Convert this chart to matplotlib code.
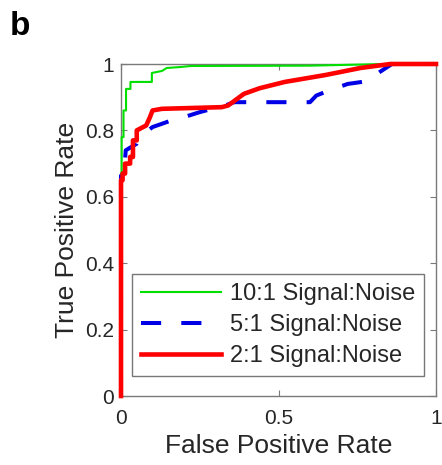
import matplotlib
matplotlib.use("Agg")
import matplotlib.pyplot as plt

plt.rcParams['font.family'] = ['Liberation Sans', 'DejaVu Sans']

# ROC curves
fpr_10 = [0, 0, 0.002, 0.002, 0.008, 0.008, 0.016, 0.016, 0.03, 0.03, 0.098, 0.098, 0.13, 0.145, 0.19, 0.22, 0.6, 0.84, 1.0]
tpr_10 = [0, 0.67, 0.67, 0.78, 0.78, 0.86, 0.86, 0.925, 0.925, 0.946, 0.946, 0.973, 0.979, 0.988, 0.991, 0.994, 0.995, 1.0, 1.0]

fpr_5 = [0, 0, 0.01, 0.015, 0.05, 0.06, 0.1, 0.16, 0.2, 0.25, 0.33, 0.36, 0.6, 0.62, 0.66, 0.72, 0.78, 0.82, 0.86, 1.0]
tpr_5 = [0, 0.675, 0.675, 0.74, 0.76, 0.78, 0.81, 0.83, 0.84, 0.855, 0.875, 0.885, 0.885, 0.905, 0.92, 0.94, 0.948, 0.975, 1.0, 1.0]

fpr_2 = [0, 0, 0.005, 0.005, 0.013, 0.013, 0.029, 0.029, 0.038, 0.038, 0.05, 0.05, 0.08, 0.092, 0.10, 0.13, 0.32, 0.34, 0.39, 0.44, 0.52, 0.65, 0.76, 0.855, 1.0]
tpr_2 = [0, 0.65, 0.65, 0.67, 0.67, 0.70, 0.70, 0.72, 0.72, 0.77, 0.77, 0.80, 0.815, 0.84, 0.86, 0.865, 0.87, 0.875, 0.91, 0.927, 0.946, 0.967, 0.988, 1.0, 1.0]

labels = ['10:1 Signal:Noise', '5:1 Signal:Noise', '2:1 Signal:Noise']
xticks = [0, 0.5, 1]
yticks = [0, 0.2, 0.4, 0.6, 0.8, 1]

fig = plt.figure(figsize=(4.42, 4.65), dpi=100)
ax = fig.add_axes([121/442, 69/465, 315/442, 332/465])

ax.plot(fpr_10, tpr_10, color='#00e000', lw=1.5, label=labels[0], zorder=3, clip_on=False)
ax.plot(fpr_5, tpr_5, color='#0000e6', lw=2.9, linestyle=(0, (5, 5)), label=labels[1], zorder=3.5, clip_on=False)
ax.plot(fpr_2, tpr_2, color='#ff0000', lw=3.3, label=labels[2], zorder=4, clip_on=False,
        solid_joinstyle='round')

ax.set_xlim(0, 1)
ax.set_ylim(0, 1)
ax.set_xticks(xticks)
ax.set_xticklabels(['0', '0.5', '1'])
ax.set_yticks(yticks)
ax.set_yticklabels(['0', '0.2', '0.4', '0.6', '0.8', '1'])

for s in ax.spines.values():
    s.set_color('#7a7a7a')
    s.set_linewidth(1.0)
ax.tick_params(direction='in', length=4, width=0.8, colors='#7a7a7a',
               labelcolor='#262626', labelsize=15, top=True, right=True, pad=5)
ax.tick_params(axis='x', pad=9)

ax.set_xlabel('False Positive Rate', fontsize=19, color='#262626', labelpad=5)
ax.set_ylabel('True Positive Rate', fontsize=19, color='#262626', labelpad=4)

leg = ax.legend(loc='lower left', bbox_to_anchor=(0.035, 0.06), fontsize=17,
                frameon=True, fancybox=False, edgecolor='#555555',
                handlelength=3.4, handletextpad=0.35, labelspacing=0.38,
                borderpad=0.38, borderaxespad=0)
leg.set_zorder(5)
leg.get_frame().set_linewidth(1.0)
for t in leg.get_texts():
    t.set_color('#262626')

fig.text(10/442, 1 - 35/465, 'b', fontsize=24, fontweight='bold', color='black')

fig.savefig('out.png', dpi=100)
